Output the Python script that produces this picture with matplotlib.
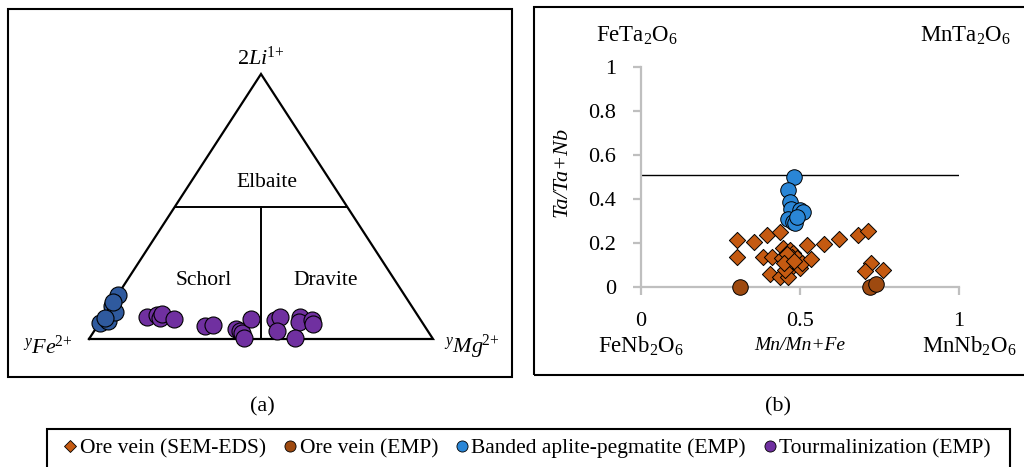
import matplotlib
matplotlib.use("Agg")
import matplotlib.pyplot as plt
from matplotlib.patches import Rectangle
from matplotlib.lines import Line2D

plt.rcParams['font.family'] = ['Liberation Serif', 'DejaVu Serif']
plt.rcParams['mathtext.fontset'] = 'custom'
plt.rcParams['mathtext.rm'] = 'Liberation Serif'
plt.rcParams['mathtext.it'] = 'Liberation Serif:italic'
plt.rcParams['mathtext.bf'] = 'Liberation Serif:bold'

# ---------------- data ----------------
# (a) ternary: fractions of 2Li (apex) and yMg (right); yFe = 1 - Li - Mg
banded_li = [0.060, 0.068, 0.125, 0.166, 0.102, 0.079, 0.140]
banded_mg = [0.002, 0.021, 0.004, 0.001, 0.025, 0.007, 0.000]
tour_li = [0.083, 0.091, 0.079, 0.094, 0.075, 0.049, 0.053, 0.038, 0.030, 0.023,
           0.004, 0.075, 0.072, 0.083, 0.030, 0.083, 0.064, 0.072, 0.057, 0.004]
tour_mg = [0.127, 0.152, 0.167, 0.165, 0.209, 0.313, 0.334, 0.408, 0.424, 0.433,
           0.449, 0.433, 0.505, 0.514, 0.532, 0.572, 0.578, 0.612, 0.623, 0.597]

# (b) Mn/(Mn+Fe) vs Ta/(Ta+Nb)
sem_x = [0.301, 0.303, 0.356, 0.397, 0.437, 0.385, 0.411, 0.406, 0.437, 0.446,
         0.442, 0.469, 0.479, 0.474, 0.490, 0.474, 0.463, 0.453, 0.500, 0.505,
         0.534, 0.521, 0.575, 0.624, 0.681, 0.713, 0.722, 0.704, 0.760, 0.460,
         0.450, 0.480]
sem_y = [0.214, 0.138, 0.206, 0.236, 0.251, 0.138, 0.138, 0.059, 0.047, 0.176,
         0.130, 0.168, 0.153, 0.138, 0.130, 0.092, 0.047, 0.077, 0.085, 0.108,
         0.126, 0.191, 0.195, 0.217, 0.236, 0.256, 0.108, 0.074, 0.077, 0.150,
         0.110, 0.120]
emp_x = [0.311, 0.720, 0.739]
emp_y = [0.000, 0.000, 0.014]
apl_x = [0.482, 0.463, 0.469, 0.472, 0.500, 0.510, 0.463, 0.479, 0.484, 0.490]
apl_y = [0.501, 0.441, 0.388, 0.353, 0.350, 0.342, 0.308, 0.297, 0.290, 0.320]
ta_limit = 0.51
xticks = [0, 0.5, 1]
xticklabels = ['0', '0.5', '1']
yticks = [0, 0.2, 0.4, 0.6, 0.8, 1]
yticklabels = ['0', '0.2', '0.4', '0.6', '0.8', '1']

legend_labels = ['Ore vein (SEM-EDS)', 'Ore vein (EMP)',
                 'Banded aplite-pegmatite (EMP)', 'Tourmalinization (EMP)']

C_SEM = '#C55A11'
C_EMP = '#9E4A10'
C_APL = '#2A86D6'
C_APL_T = '#2F5A9E'
C_TOUR = '#7030A0'

W, H = 1024, 467
fig = plt.figure(figsize=(W / 100, H / 100), dpi=100)


def fx(px):
    return px / W


def fy(py):
    return 1 - py / H


def tern(li, mg):
    return [m + l / 2 for l, m in zip(li, mg)], list(li)


# frames
for (x0, y0, x1, y1) in [(8, 9, 512, 377), (534, 7, 1030, 375), (47, 429, 1010, 475)]:
    fig.patches.append(Rectangle((fx(x0), fy(y1)), fx(x1) - fx(x0), fy(y0) - fy(y1),
                                 transform=fig.transFigure, fill=False,
                                 edgecolor='black', lw=1.5))

# ---------------- (a) ternary ----------------
axa = fig.add_axes([fx(89), fy(339), fx(433) - fx(89), fy(74) - fy(339)])
axa.set_xlim(0, 1)
axa.set_ylim(0, 1)
axa.axis('off')
tx, ty = tern([0, 0, 1, 0], [0, 1, 0, 0])
axa.plot(tx, ty, color='black', lw=1.6, clip_on=False, solid_joinstyle='miter')
lx, ly = tern([0.5, 0.5], [0.0, 0.5])
axa.plot(lx, ly, color='black', lw=1.4, clip_on=False)
vx, vy = tern([0.5, 0.0], [0.25, 0.5])
axa.plot(vx, vy, color='black', lw=1.4, clip_on=False)

bx, by = tern(banded_li, banded_mg)
axa.scatter(bx, by, s=150, color=C_APL_T, edgecolor='black', lw=0.8, clip_on=False, zorder=3)
px_, py_ = tern(tour_li, tour_mg)
axa.scatter(px_, py_, s=150, color=C_TOUR, edgecolor='black', lw=0.8, clip_on=False, zorder=3)

axa.text(0.5, 1.06, r'$\mathit{2Li}^{\!1\!+}$', ha='center', va='center', fontsize=16)
axa.text(-0.12, -0.03, r'${}^{y}\mathit{Fe}^{\!2\!+}$', ha='center', va='center', fontsize=16)
axa.text(1.113, -0.03, r'${}^{y}\mathit{Mg}^{\!2\!+}$', ha='center', va='center', fontsize=16)
axa.text(0.517, 0.592, 'Elbaite', ha='center', va='center', fontsize=15.5)
axa.text(0.334, 0.219, 'Schorl', ha='center', va='center', fontsize=15.5)
axa.text(0.689, 0.219, 'Dravite', ha='center', va='center', fontsize=15.5)

# ---------------- (b) columbite quadrilateral ----------------
axb = fig.add_axes([fx(641), fy(287), fx(959) - fx(641), fy(67) - fy(287)])
axb.set_xlim(0, 1)
axb.set_ylim(0, 1)
for s in ['top', 'right']:
    axb.spines[s].set_visible(False)
for s in ['left', 'bottom']:
    axb.spines[s].set_color('#BFBFBF')
    axb.spines[s].set_linewidth(1.6)
axb.set_xticks(xticks)
axb.set_xticklabels(xticklabels)
axb.set_yticks(yticks)
axb.set_yticklabels(yticklabels)
axb.tick_params(axis='both', color='#BFBFBF', width=1.6, labelsize=16)
axb.tick_params(axis='y', length=6, pad=12)
axb.tick_params(axis='x', length=6, pad=12)
axb.patch.set_visible(False)

axb.plot([0, 1], [ta_limit, ta_limit], color='black', lw=1.0, zorder=2)
axb.scatter(sem_x, sem_y, marker='D', s=68, color=C_SEM, edgecolor='black', lw=0.7,
            clip_on=False, zorder=3)
axb.scatter(emp_x, emp_y, marker='o', s=125, color=C_EMP, edgecolor='black', lw=0.7,
            clip_on=False, zorder=3)
axb.scatter(apl_x, apl_y, marker='o', s=125, color=C_APL, edgecolor='black', lw=0.7,
            clip_on=False, zorder=4)

fig.text(fx(637), fy(36), r'FeTa$_2$O$_6$', ha='center', va='center', fontsize=16.5)
fig.text(fx(965), fy(36), r'MnTa$_2$O$_6$', ha='center', va='center', fontsize=16.5)
fig.text(fx(641), fy(346), r'FeNb$_2$O$_6$', ha='center', va='center', fontsize=16.5)
fig.text(fx(969), fy(346), r'MnNb$_2$O$_6$', ha='center', va='center', fontsize=16.5)
fig.text(fx(800), fy(346), 'Mn/Mn+Fe', ha='center', va='center', fontsize=14, style='italic')
fig.text(fx(562), fy(172), 'Ta/Ta+Nb', ha='center', va='center', fontsize=16, style='italic',
         rotation=90)

fig.text(fx(262), fy(407), '(a)', ha='center', va='center', fontsize=16)
fig.text(fx(778), fy(407), '(b)', ha='center', va='center', fontsize=16)

# ---------------- legend ----------------
handles = [
    Line2D([], [], ls='none', marker='D', markersize=6, markerfacecolor=C_SEM, markeredgecolor='black', markeredgewidth=0.6),
    Line2D([], [], ls='none', marker='o', markersize=8, markerfacecolor=C_EMP, markeredgecolor='black', markeredgewidth=0.6),
    Line2D([], [], ls='none', marker='o', markersize=8, markerfacecolor=C_APL, markeredgecolor='black', markeredgewidth=0.6),
    Line2D([], [], ls='none', marker='o', markersize=8, markerfacecolor=C_TOUR, markeredgecolor='black', markeredgewidth=0.6),
]
fig.legend(handles, legend_labels, loc='center', bbox_to_anchor=(fx(527), fy(448)),
           ncol=4, frameon=False, fontsize=15.5, handletextpad=0.1, columnspacing=0.75,
           handlelength=0.7, borderaxespad=0)

fig.savefig('out.png', dpi=100)
